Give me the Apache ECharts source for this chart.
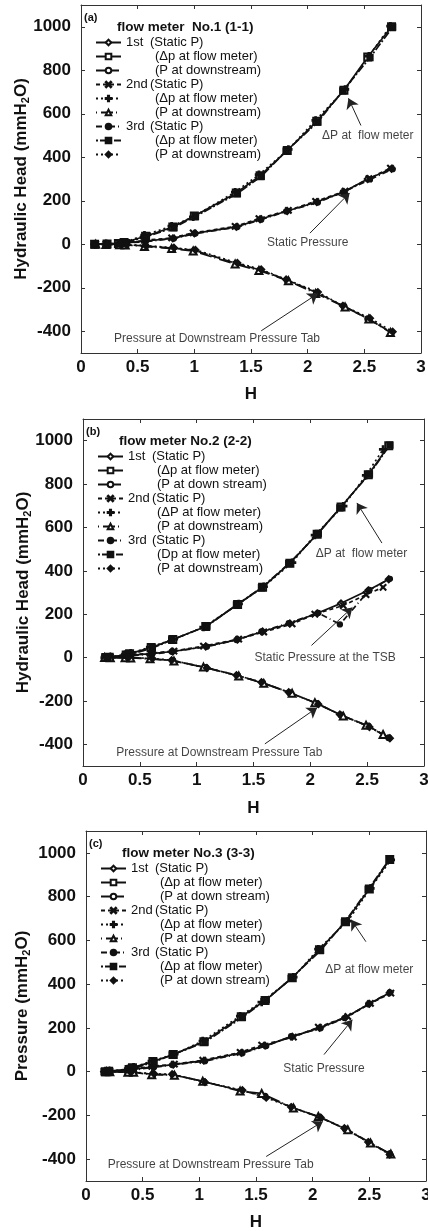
<!DOCTYPE html>
<html>
<head>
<meta charset="utf-8">
<script src="https://cdn.jsdelivr.net/npm/echarts@6/dist/echarts.min.js"></script>
<style>
body{margin:0;background:#fff;}
.pan{position:absolute;left:0;width:428px;}
#main_a{top:0;height:410px;}
#main_b{top:410px;height:410px;}
#main_c{top:820px;height:411px;}
</style>
</head>
<body>
<div id="main_a" class="pan"></div>
<div id="main_b" class="pan"></div>
<div id="main_c" class="pan"></div>
<script>
// ---- tick values ----
var yTicks = [-400, -200, 0, 200, 400, 600, 800, 1000];
var runs = ['1st', '2nd', '3rd'];

// ---- panel (a) flow meter No.1 ----
var hA1 = [0.12, 0.23, 0.33, 0.38, 0.57, 0.81, 1.00, 1.37, 1.58, 1.82, 2.08, 2.32, 2.53, 2.74];
var hA2 = [0.13, 0.22, 0.34, 0.39, 0.56, 0.80, 0.99, 1.36, 1.57, 1.83, 2.07, 2.33, 2.54, 2.73];
var hA3 = [0.12, 0.23, 0.35, 0.40, 0.57, 0.82, 1.01, 1.38, 1.59, 1.81, 2.09, 2.31, 2.55, 2.75];
var staticA1 = [0, 1, 3, 5, 15, 27, 50, 80, 115, 153, 194, 241, 300, 347];
var dpA1 = [0, 1, 4, 8, 37, 79, 130, 236, 315, 431, 565, 708, 861, 1000];
var downA1 = [0, 0, -1, -2, -8, -18, -28, -88, -118, -165, -223, -285, -342, -405];
var staticA2 = [0, 2, 4, 6, 18, 29, 52, 82, 118, 156, 197, 244, 302, 350];
var dpA2 = [0, 2, 5, 10, 42, 83, 126, 240, 320, 436, 570, 712, 865, 1003];
var downA2 = [0, -1, -2, -3, -10, -20, -31, -91, -121, -168, -226, -288, -344, -406];
var staticA3 = [0, 1, 3, 6, 12, 26, 49, 79, 113, 151, 192, 239, 298, 345];
var dpA3 = [0, 1, 3, 7, 34, 77, 128, 233, 312, 428, 562, 705, 858, 998];
var downA3 = [0, 0, -1, -1, -6, -16, -26, -86, -116, -162, -220, -283, -340, -402];
var legendA = ['(Static P)', '(\u0394p at flow meter)', '(P at downstream)',
               '(Static P)', '(\u0394p at flow meter)', '(P at downstream)',
               '(Static P)', '(\u0394p at flow meter)', '(P at downstream)'];
var annoTextA = ['\u0394P at  flow meter', 'Static Pressure', 'Pressure at Downstream Pressure Tab'];
var annoPosA = [[2.53, 500], [2.0, 5], [1.2, -435]];
var arrowFromA = [[2.47, 546], [2.02, 51], [1.59, -398]];
var arrowToA = [[2.36, 671], [2.37, 236], [2.09, -227]];

// ---- panel (b) flow meter No.2 ----
var hB1 = [0.20, 0.23, 0.38, 0.41, 0.60, 0.79, 1.08, 1.36, 1.58, 1.82, 2.06, 2.27, 2.51, 2.69];
var hB2 = [0.19, 0.24, 0.37, 0.42, 0.59, 0.80, 1.06, 1.37, 1.59, 1.84, 2.04, 2.29, 2.49, 2.64];
var hB3 = [0.21, 0.22, 0.39, 0.40, 0.61, 0.78, 1.09, 1.35, 1.57, 1.81, 2.07, 2.26, 2.52, 2.70];
var staticB1 = [0, 2, 8, 10, 18, 28, 51, 83, 120, 157, 204, 250, 310, 361];
var dpB1 = [0, 2, 12, 18, 46, 83, 143, 245, 324, 435, 569, 694, 843, 977];
var downB1 = [0, 0, 0, 0, -5, -14, -46, -83, -116, -162, -212, -265, -316, -370];
var staticB2 = [0, 3, 9, 12, 20, 30, 53, 85, 118, 155, 200, 240, 290, 324];
var dpB2 = [0, 3, 14, 20, 48, 85, 140, 248, 327, 438, 565, 698, 840, 960];
var downB2 = [0, -1, -1, -2, -6, -16, -44, -85, -119, -165, -208, -270, -312, -355];
var staticB3 = [0, 1, 7, 9, 16, 27, 50, 81, 121, 159, 206, 153, 312, 363];
var dpB3 = [0, 1, 10, 16, 44, 81, 145, 243, 322, 433, 572, 690, 846, 980];
var downB3 = [0, 0, 1, 0, -4, -12, -48, -81, -114, -160, -215, -262, -320, -372];
var legendB = ['(Static P)', '(\u0394p at flow meter)', '(P at down stream)',
               '(Static P)', '(\u0394P at flow meter)', '(P at downstream)',
               '(Static P)', '(Dp at flow meter)', '(P at downstream)'];
var annoTextB = ['\u0394P at  flow meter', 'Static Pressure at the TSB', 'Pressure at Downstream Pressure Tab'];
var annoPosB = [[2.45, 477], [2.13, 0], [1.2, -440]];
var arrowFromB = [[2.63, 528], [2.01, 56], [1.6, -398]];
var arrowToB = [[2.41, 713], [2.37, 231], [2.06, -231]];

// ---- panel (c) flow meter No.3 ----
var hC1 = [0.17, 0.20, 0.38, 0.41, 0.59, 0.77, 1.04, 1.37, 1.58, 1.82, 2.06, 2.29, 2.50, 2.68];
var hC2 = [0.18, 0.21, 0.37, 0.42, 0.58, 0.78, 1.03, 1.36, 1.55, 1.83, 2.05, 2.31, 2.51, 2.69];
var hC3 = [0.16, 0.20, 0.39, 0.40, 0.60, 0.76, 1.05, 1.38, 1.59, 1.81, 2.07, 2.28, 2.49, 2.68];
var staticC1 = [0, 2, 6, 10, 22, 32, 50, 86, 119, 160, 200, 248, 310, 361];
var dpC1 = [0, 2, 10, 18, 46, 78, 137, 251, 325, 429, 557, 685, 835, 970];
var downC1 = [0, 0, -2, -2, -12, -14, -46, -87, -112, -164, -208, -262, -324, -375];
var staticC2 = [0, 3, 7, 12, 24, 34, 52, 88, 121, 158, 203, 252, 312, 359];
var dpC2 = [0, 3, 12, 20, 48, 80, 140, 254, 318, 432, 560, 688, 838, 968];
var downC2 = [0, -1, -3, -3, -14, -16, -44, -89, -100, -166, -205, -266, -326, -377];
var staticC3 = [0, 1, 5, 9, 20, 30, 48, 84, 117, 162, 198, 245, 308, 362];
var dpC3 = [0, 1, 9, 16, 44, 76, 135, 248, 329, 426, 554, 682, 833, 972];
var downC3 = [0, 0, -1, -1, -10, -12, -48, -85, -119, -162, -210, -259, -322, -379];
var legendC = ['(Static P)', '(\u0394p at flow meter)', '(P at down stream)',
               '(Static P)', '(\u0394p at flow meter)', '(P at down steam)',
               '(Static P)', '(\u0394p at flow meter)', '(P at down stream)'];
var annoTextC = ['\u0394P at flow meter', 'Static Pressure', 'Pressure at Downstream Pressure Tab'];
var annoPosC = [[2.5, 466], [2.1, 14], [1.1, -425]];
var arrowFromC = [[2.47, 594], [2.1, 78], [1.59, -388]];
var arrowToC = [[2.34, 694], [2.35, 237], [2.09, -228]];

// marker / line styles, one per legend row
var X_PATH = 'path://M0,1L1,0L5,4L9,0L10,1L6,5L10,9L9,10L5,6L1,10L0,9L4,5Z';
var PLUS_PATH = 'path://M4,0L6,0L6,4L10,4L10,6L6,6L6,10L4,10L4,6L0,6L0,4L4,4Z';
var styles = [
    {dash: 'solid', symbol: 'emptyDiamond', size: 6},
    {dash: 'solid', symbol: 'emptyRect', size: 7},
    {dash: [10, 3], symbol: 'emptyCircle', size: 5},
    {dash: [4, 3], symbol: X_PATH, size: 6},
    {dash: [2, 3], symbol: PLUS_PATH, size: 7},
    {dash: [1, 4, 12, 3], symbol: 'emptyTriangle', size: 7},
    {dash: [6, 3, 1, 3], symbol: 'circle', size: 5},
    {dash: [2, 2, 8, 2], symbol: 'rect', size: 6},
    {dash: [2, 3], symbol: 'diamond', size: 7}
];

function zip(xs, ys) {
    var out = [];
    for (var i = 0; i < xs.length; i++) out.push([xs[i], ys[i]]);
    return out;
}

function plain(v) { return String(v); }

function makePanel(id, p) {
    var chart = echarts.init(document.getElementById(id));
    var series = [];
    var names = [];
    var xsets = [p.h1, p.h2, p.h3];
    for (var k = 0; k < 9; k++) {
        var run = Math.floor(k / 3);
        var nm = runs[run] + '|' + (k % 3) + '|' + p.legend[k];
        names.push(nm);
        var st = styles[k];
        series.push({
            name: nm,
            type: 'line',
            xAxisIndex: 0, yAxisIndex: 0,
            data: zip(xsets[run], p.ys[k]),
            symbol: st.symbol,
            symbolSize: st.size,
            showAllSymbol: true,
            color: '#111',
            lineStyle: {color: '#111', width: 1.7, type: st.dash},
            itemStyle: {color: '#111', borderColor: '#111', borderWidth: 1.3},
            animation: false
        });
    }
    var arrows = [];
    for (var a = 0; a < p.from.length; a++) {
        arrows.push([{coord: p.from[a]}, {coord: p.to[a]}]);
    }
    var notes = [];
    for (var n = 0; n < p.notes.length; n++) {
        notes.push({value: p.notePos[n], name: p.notes[n]});
    }
    series.push({
        name: 'notes',
        type: 'scatter',
        data: notes,
        symbolSize: 0,
        silent: true,
        animation: false,
        label: {show: true, position: 'inside', formatter: '{b}', fontSize: 12,
                color: '#111', fontFamily: 'Liberation Sans'},
        markLine: {
            silent: true,
            animation: false,
            symbol: ['none', 'arrow'],
            symbolSize: 10,
            label: {show: false},
            lineStyle: {color: '#222', width: 1, type: 'solid'},
            data: arrows
        }
    });

    var axisLine = {show: true, onZero: false, lineStyle: {color: '#333'}};
    var tick = {show: true, inside: true, length: 4, lineStyle: {color: '#333'}};

    chart.setOption({
        textStyle: {fontFamily: 'Liberation Sans'},
        title: [
            {text: p.tag, left: p.left + 3, top: p.top + 7, padding: 0,
             textStyle: {fontSize: 11, fontWeight: 'bold', color: '#111'}},
            {text: p.title, left: p.left + 36, top: p.top + 15, padding: 0,
             textStyle: {fontSize: 13.5, fontWeight: 'bold', color: '#111'}}
        ],
        legend: {
            data: names,
            orient: 'vertical',
            left: p.left + 14,
            top: p.top + 31,
            padding: 0,
            itemWidth: 25,
            itemHeight: 7,
            itemGap: 1,
            textStyle: {
                color: '#111', fontSize: 13, lineHeight: 13,
                rich: {
                    r: {width: 24, fontSize: 13, color: '#111'},
                    p: {width: 29, fontSize: 13},
                    t: {fontSize: 13, color: '#111'}
                }
            },
            formatter: function (name) {
                var parts = name.split('|');
                if (parts[1] === '0') return '{r|' + parts[0] + '}{t|' + parts[2] + '}';
                return '{p| }{t|' + parts[2] + '}';
            }
        },
        grid: {left: p.left, right: p.right, top: p.top, bottom: p.bottom,
               containLabel: false, outerBoundsMode: 'none'},
        xAxis: [{
            type: 'value', min: 0, max: 3, interval: 0.5, position: 'bottom',
            name: 'H', nameLocation: 'middle', nameGap: p.hGap, nameMoveOverlap: false,
            nameTextStyle: {fontSize: 17, fontWeight: 'bold', color: '#111'},
            axisLine: axisLine,
            axisTick: tick,
            axisLabel: {fontSize: 17, fontWeight: 'bold', color: '#111', margin: 6, formatter: plain},
            splitLine: {show: false}
        }, {
            type: 'value', min: 0, max: 3, interval: 0.5, position: 'top',
            axisLine: axisLine,
            axisTick: tick,
            axisLabel: {show: false},
            splitLine: {show: false}
        }],
        yAxis: [{
            type: 'value', min: -500, max: 1100, position: 'left',
            name: p.yName, nameLocation: 'middle', nameGap: p.yGap, nameMoveOverlap: false,
            nameTextStyle: {
                rich: {
                    b: {fontSize: 17, fontWeight: 'bold', color: '#111', lineHeight: 20},
                    s: {fontSize: 11, fontWeight: 'bold', color: '#111', lineHeight: 11, verticalAlign: 'bottom'}
                }
            },
            axisLine: axisLine,
            axisTick: {show: true, inside: true, length: 4, customValues: yTicks, lineStyle: {color: '#333'}},
            axisLabel: {fontSize: 17, fontWeight: 'bold', color: '#111', margin: 10,
                        customValues: yTicks, formatter: plain},
            splitLine: {show: false}
        }, {
            type: 'value', min: -500, max: 1100, position: 'right',
            axisLine: axisLine,
            axisTick: {show: true, inside: true, length: 4, customValues: yTicks, lineStyle: {color: '#333'}},
            axisLabel: {show: false},
            splitLine: {show: false}
        }],
        series: series
    });
    return chart;
}

var Chart_a = makePanel('main_a', {
    left: 81, right: 7, top: 5, bottom: 57, hGap: 33, yGap: 50,
    tag: '(a)', title: 'flow meter  No.1 (1-1)',
    yName: '{b|Hydraulic Head (mmH}{s|2}{b|O)}',
    h1: hA1, h2: hA2, h3: hA3,
    ys: [staticA1, dpA1, downA1, staticA2, dpA2, downA2, staticA3, dpA3, downA3],
    legend: legendA, notes: annoTextA, notePos: annoPosA, from: arrowFromA, to: arrowToA
});
var Chart_b = makePanel('main_b', {
    left: 83, right: 4, top: 9, bottom: 54, hGap: 34, yGap: 50,
    tag: '(b)', title: 'flow meter No.2 (2-2)',
    yName: '{b|Hydraulic Head (mmH}{s|2}{b|O)}',
    h1: hB1, h2: hB2, h3: hB3,
    ys: [staticB1, dpB1, downB1, staticB2, dpB2, downB2, staticB3, dpB3, downB3],
    legend: legendB, notes: annoTextB, notePos: annoPosB, from: arrowFromB, to: arrowToB
});
var Chart_c = makePanel('main_c', {
    left: 86, right: 2, top: 11, bottom: 50, hGap: 33, yGap: 54,
    tag: '(c)', title: 'flow meter No.3 (3-3)',
    yName: '{b|Pressure (mmH}{s|2}{b|O)}',
    h1: hC1, h2: hC2, h3: hC3,
    ys: [staticC1, dpC1, downC1, staticC2, dpC2, downC2, staticC3, dpC3, downC3],
    legend: legendC, notes: annoTextC, notePos: annoPosC, from: arrowFromC, to: arrowToC
});
</script>
</body>
</html>
